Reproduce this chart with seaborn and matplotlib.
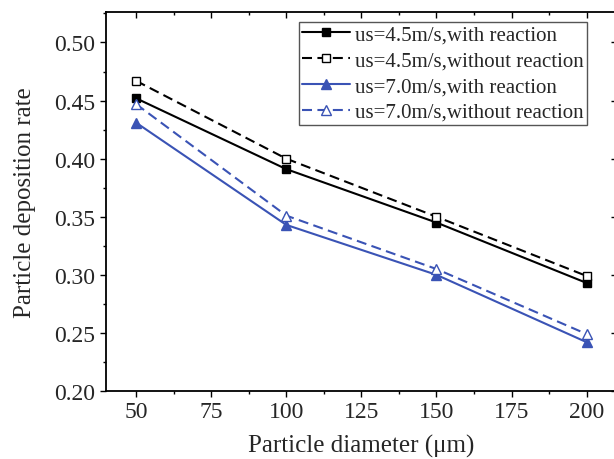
import matplotlib
matplotlib.use("Agg")
import matplotlib.pyplot as plt
import matplotlib.lines as mlines
import seaborn as sns
import pandas as pd
from matplotlib.ticker import MultipleLocator

diameters = [50, 100, 150, 200]
us45_with = [0.452, 0.391, 0.345, 0.293]
us45_without = [0.467, 0.400, 0.350, 0.299]
us70_with = [0.431, 0.343, 0.300, 0.242]
us70_without = [0.447, 0.351, 0.305, 0.249]
labels = ["us=4.5m/s,with reaction", "us=4.5m/s,without reaction",
          "us=7.0m/s,with reaction", "us=7.0m/s,without reaction"]
ytick_vals = [0.20, 0.25, 0.30, 0.35, 0.40, 0.45, 0.50]
ytick_labels = ["0.20", "0.25", "0.30", "0.35", "0.40", "0.45", "0.50"]

sns.set_theme(style="ticks")
plt.rcParams['font.family'] = ['Liberation Serif', 'DejaVu Serif']

fig = plt.figure(figsize=(6.14, 4.6), dpi=100)
ax = fig.add_axes([106/614, 1-392/460, (616.7-106)/614, (392-12.7)/460])

blue = "#3a53b5"
styles = [
    ("black", "-", "s", "black", 5.5),
    ("black", "--", "s", "white", 5.5),
    (blue, "-", "^", blue, 6.5),
    (blue, "--", "^", "white", 6.5),
]
series = [us45_with, us45_without, us70_with, us70_without]
for vals, lab, (c, ls, m, fc, ms) in zip(series, labels, styles):
    df = pd.DataFrame({"d": diameters, "r": vals})
    sns.lineplot(data=df, x="d", y="r", ax=ax, color=c, linestyle=ls, marker=m,
                 markerfacecolor=fc, markeredgecolor=c, markersize=ms, linewidth=1.5,
                 markeredgewidth=1.0, label=lab)
for line in ax.get_lines():
    if line.get_linestyle() == '--':
        line.set_dashes((4.8, 2.6))

ax.set_xlim(40, 210)
ax.set_ylim(0.2, 0.5265)
ax.xaxis.set_major_locator(MultipleLocator(25))
ax.xaxis.set_minor_locator(MultipleLocator(12.5))
ax.yaxis.set_minor_locator(MultipleLocator(0.025))
ax.set_yticks(ytick_vals)
ax.set_yticklabels(ytick_labels)

ax.tick_params(axis='both', which='major', labelsize=17, direction='out', length=4.5, width=1, color='black', pad=3)
ax.tick_params(axis='both', which='minor', direction='out', length=2.3, width=1, color='black')
ax.tick_params(top=True, right=True, which='both')
for spine in ax.spines.values():
    spine.set_linewidth(1.3)
    spine.set_color('black')
for t in ax.xaxis.get_major_ticks() + ax.xaxis.get_minor_ticks():
    t.tick2line.set_marker(mlines.TICKDOWN)
for t in ax.yaxis.get_major_ticks() + ax.yaxis.get_minor_ticks():
    t.tick2line.set_marker(mlines.TICKLEFT)

ax.set_xlabel("Particle diameter (μm)", fontsize=18, labelpad=8)
ax.set_ylabel("Particle deposition rate", fontsize=18, labelpad=13)

leg = ax.legend(loc="upper right", bbox_to_anchor=((587-106)/(616.7-106), (392-22.7)/(392-12.7)),
                fontsize=15, frameon=True, fancybox=False, edgecolor="#555555", framealpha=1,
                handlelength=2.3, handletextpad=0.25, borderpad=0.15, labelspacing=0.3,
                borderaxespad=0)
leg.get_frame().set_linewidth(1.0)

fig.savefig("out.png", dpi=100)
